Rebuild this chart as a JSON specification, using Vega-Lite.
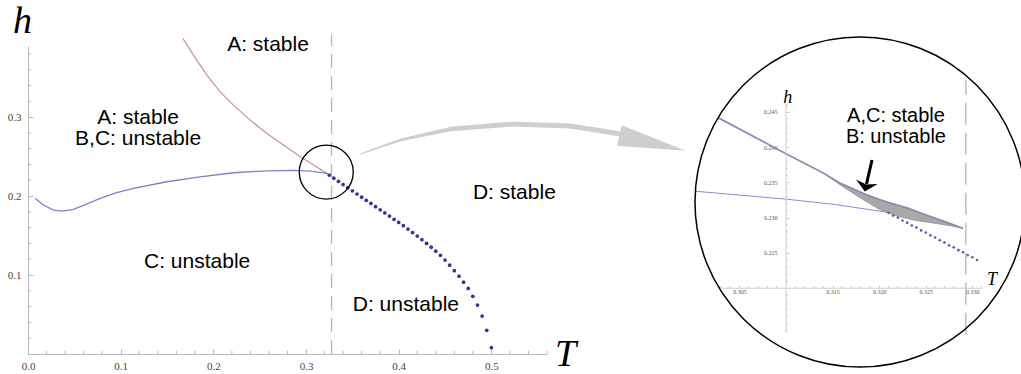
{
  "$schema": "https://vega.github.io/schema/vega-lite/v6.json",
  "background": "white",
  "padding": {"left": 7, "top": 3, "right": 0, "bottom": 0},
  "bounds": "flush",
  "spacing": 147,
  "config": {"view": {"stroke": null}, "axis": {"labelOverlap": false}},
  "datasets": {
    "redA": [
      {"T": 0.1671, "h": 0.3996}, {"T": 0.1785, "h": 0.3785}, {"T": 0.1930, "h": 0.3532},
      {"T": 0.2073, "h": 0.3320}, {"T": 0.2217, "h": 0.3152}, {"T": 0.2397, "h": 0.2962},
      {"T": 0.2578, "h": 0.2793}, {"T": 0.2757, "h": 0.2646}, {"T": 0.2937, "h": 0.2498},
      {"T": 0.3081, "h": 0.2392}, {"T": 0.3207, "h": 0.2300}, {"T": 0.3235, "h": 0.2285}
    ],
    "blueC": [
      {"T": 0.0076, "h": 0.1971}, {"T": 0.0166, "h": 0.1886}, {"T": 0.0273, "h": 0.1823},
      {"T": 0.0364, "h": 0.1810}, {"T": 0.0490, "h": 0.1831}, {"T": 0.0634, "h": 0.1899},
      {"T": 0.0778, "h": 0.1971}, {"T": 0.0958, "h": 0.2042}, {"T": 0.1138, "h": 0.2097},
      {"T": 0.1498, "h": 0.2181}, {"T": 0.1857, "h": 0.2244}, {"T": 0.2217, "h": 0.2295},
      {"T": 0.2578, "h": 0.2320}, {"T": 0.2865, "h": 0.2325}, {"T": 0.3045, "h": 0.2316},
      {"T": 0.3207, "h": 0.2290}, {"T": 0.3235, "h": 0.2285}
    ],
    "dotsD": [
      {"T": 0.325, "h": 0.2266}, {"T": 0.330, "h": 0.2226}, {"T": 0.335, "h": 0.2186},
      {"T": 0.340, "h": 0.2146}, {"T": 0.345, "h": 0.2106}, {"T": 0.350, "h": 0.2066},
      {"T": 0.355, "h": 0.2026}, {"T": 0.360, "h": 0.1986}, {"T": 0.365, "h": 0.1946},
      {"T": 0.370, "h": 0.1906}, {"T": 0.375, "h": 0.1866}, {"T": 0.380, "h": 0.1826},
      {"T": 0.385, "h": 0.1786}, {"T": 0.390, "h": 0.1746}, {"T": 0.395, "h": 0.1706},
      {"T": 0.400, "h": 0.1666}, {"T": 0.405, "h": 0.1624}, {"T": 0.410, "h": 0.1582},
      {"T": 0.415, "h": 0.1538}, {"T": 0.420, "h": 0.1493}, {"T": 0.425, "h": 0.1447},
      {"T": 0.430, "h": 0.1400}, {"T": 0.435, "h": 0.1352}, {"T": 0.440, "h": 0.1302},
      {"T": 0.445, "h": 0.1250}, {"T": 0.450, "h": 0.1190}, {"T": 0.455, "h": 0.1125},
      {"T": 0.460, "h": 0.1055}, {"T": 0.465, "h": 0.0985}, {"T": 0.470, "h": 0.0910},
      {"T": 0.475, "h": 0.0830}, {"T": 0.480, "h": 0.0730}, {"T": 0.485, "h": 0.0620},
      {"T": 0.490, "h": 0.0480}, {"T": 0.495, "h": 0.0300}, {"T": 0.500, "h": 0.0080}
    ],
    "minorXMain": [
      {"T": 0.02}, {"T": 0.04}, {"T": 0.06}, {"T": 0.08}, {"T": 0.12}, {"T": 0.14}, {"T": 0.16},
      {"T": 0.18}, {"T": 0.22}, {"T": 0.24}, {"T": 0.26}, {"T": 0.28}, {"T": 0.32}, {"T": 0.34},
      {"T": 0.36}, {"T": 0.38}, {"T": 0.42}, {"T": 0.44}, {"T": 0.46}, {"T": 0.48}, {"T": 0.52},
      {"T": 0.54}, {"T": 0.56}
    ],
    "minorYMain": [
      {"h": 0.02}, {"h": 0.04}, {"h": 0.06}, {"h": 0.08}, {"h": 0.12}, {"h": 0.14}, {"h": 0.16},
      {"h": 0.18}, {"h": 0.22}, {"h": 0.24}, {"h": 0.26}, {"h": 0.28}, {"h": 0.32}, {"h": 0.34},
      {"h": 0.36}, {"h": 0.38}
    ],
    "dashMain": [{"T": 0.3275, "h1": 0, "h2": 0.405}],
    "mainLabels": [
      {"T": 0.259, "h": 0.391, "text": "A: stable"},
      {"T": 0.1188, "h": 0.2990, "text": "A: stable"},
      {"T": 0.1188, "h": 0.2718, "text": "B,C: unstable"},
      {"T": 0.1825, "h": 0.1165, "text": "C: unstable"},
      {"T": 0.5248, "h": 0.2038, "text": "D: stable"},
      {"T": 0.4077, "h": 0.0620, "text": "D: unstable"}
    ],
    "mainLetterH": [{"T": -0.006, "h": 0.420, "text": "h"}],
    "mainLetterT": [{"T": 0.5799, "h": -0.0152, "text": "T"}],
    "smallCircle": [{"T": 0.3218, "h": 0.2304}],
    "arrowShaft": [
      {"T": 0.3585, "h": 0.2532}, {"T": 0.4017, "h": 0.2709}, {"T": 0.4557, "h": 0.2848},
      {"T": 0.5205, "h": 0.2911}, {"T": 0.5853, "h": 0.2886}, {"T": 0.6393, "h": 0.2785}
    ],
    "arrowHead": [{"T": 0.6739, "h": 0.2671}],
    "insetA": [
      {"T": 0.3027, "h": 0.2442}, {"T": 0.3101, "h": 0.2390}, {"T": 0.3140, "h": 0.23635},
      {"T": 0.3158, "h": 0.2349}, {"T": 0.3187, "h": 0.2332}, {"T": 0.3208, "h": 0.2322},
      {"T": 0.3230, "h": 0.2314}, {"T": 0.3258, "h": 0.2300}, {"T": 0.3290, "h": 0.2285}
    ],
    "insetBand": [
      {"T": 0.3140, "hu": 0.23635, "hl": 0.23635}, {"T": 0.3160, "hu": 0.2348, "hl": 0.2345},
      {"T": 0.3180, "hu": 0.2336, "hl": 0.2328}, {"T": 0.3200, "hu": 0.2326, "hl": 0.2312},
      {"T": 0.3220, "hu": 0.2318, "hl": 0.2302}, {"T": 0.3240, "hu": 0.2309, "hl": 0.2296},
      {"T": 0.3260, "hu": 0.2300, "hl": 0.2292}, {"T": 0.3275, "hu": 0.2293, "hl": 0.2289},
      {"T": 0.3290, "hu": 0.2285, "hl": 0.2285}
    ],
    "insetC": [
      {"T": 0.30024, "h": 0.23378}, {"T": 0.30077, "h": 0.23370}, {"T": 0.31014, "h": 0.23262},
      {"T": 0.31508, "h": 0.23191}, {"T": 0.32044, "h": 0.23086}, {"T": 0.3210, "h": 0.2307}
    ],
    "insetDots": [
      {"T": 0.3210, "h": 0.2307}, {"T": 0.3215, "h": 0.2303}, {"T": 0.3220, "h": 0.2300},
      {"T": 0.3225, "h": 0.2296}, {"T": 0.3230, "h": 0.2293}, {"T": 0.3235, "h": 0.2289},
      {"T": 0.3240, "h": 0.2286}, {"T": 0.3245, "h": 0.2282}, {"T": 0.3250, "h": 0.2279},
      {"T": 0.3255, "h": 0.2275}, {"T": 0.3260, "h": 0.2272}, {"T": 0.3265, "h": 0.2268},
      {"T": 0.3270, "h": 0.2265}, {"T": 0.3275, "h": 0.2261}, {"T": 0.3280, "h": 0.2258},
      {"T": 0.3285, "h": 0.2254}, {"T": 0.3290, "h": 0.2251}, {"T": 0.3295, "h": 0.2247},
      {"T": 0.3300, "h": 0.2244}, {"T": 0.3305, "h": 0.2240}
    ],
    "insetMinorX": [
      {"T": 0.303}, {"T": 0.304}, {"T": 0.306}, {"T": 0.307}, {"T": 0.308}, {"T": 0.309},
      {"T": 0.311}, {"T": 0.312}, {"T": 0.313}, {"T": 0.314}, {"T": 0.316}, {"T": 0.317},
      {"T": 0.318}, {"T": 0.319}, {"T": 0.321}, {"T": 0.322}, {"T": 0.323}, {"T": 0.324},
      {"T": 0.326}, {"T": 0.327}, {"T": 0.328}, {"T": 0.329}, {"T": 0.331}
    ],
    "insetMinorY": [
      {"h": 0.214}, {"h": 0.215}, {"h": 0.216}, {"h": 0.217}, {"h": 0.218}, {"h": 0.219},
      {"h": 0.221}, {"h": 0.222}, {"h": 0.223}, {"h": 0.224}, {"h": 0.226}, {"h": 0.227},
      {"h": 0.228}, {"h": 0.229}, {"h": 0.231}, {"h": 0.232}, {"h": 0.233}, {"h": 0.234},
      {"h": 0.236}, {"h": 0.237}, {"h": 0.238}, {"h": 0.239}, {"h": 0.241}, {"h": 0.242},
      {"h": 0.243}, {"h": 0.244}, {"h": 0.246}
    ],
    "insetDash": [{"T": 0.3293, "h1": 0.2134, "h2": 0.2495}],
    "insetXAxis": [{"T1": 0.3031, "T2": 0.3311, "h": 0.220}],
    "insetYAxis": [{"T": 0.310, "h1": 0.2137, "h2": 0.2462}],
    "bigCircle": [{"T": 0.31794, "h": 0.23223}],
    "insetLabels": [
      {"T": 0.3218, "h": 0.2444, "text": "A,C: stable"},
      {"T": 0.3218, "h": 0.2414, "text": "B: unstable"}
    ],
    "insetLetters": [
      {"T": 0.3102, "h": 0.24628, "text": "h"},
      {"T": 0.3321, "h": 0.22046, "text": "T"}
    ],
    "blackShaft": [{"T1": 0.31923, "h1": 0.23819, "T2": 0.31864, "h2": 0.23479}],
    "blackHead": [{"T": 0.31858, "h": 0.23450}]
  },
  "hconcat": [
    {
      "width": 519,
      "height": 308,
      "layer": [
        {
          "data": {"name": "redA"},
          "mark": {"type": "line", "color": "#c5909d", "strokeWidth": 1.2, "clip": false},
          "encoding": {
            "x": {
              "field": "T", "type": "quantitative",
              "scale": {"domain": [0, 0.56], "nice": false, "zero": false},
              "axis": {
                "title": null, "grid": false,
                "values": [0, 0.1, 0.2, 0.3, 0.4, 0.5], "format": ".1f",
                "domainColor": "#b8b8b8", "tickColor": "#b8b8b8", "tickSize": -5,
                "labelPadding": 11, "labelFont": "Liberation Serif", "labelFontSize": 11,
                "labelColor": "#444444", "labelFlush": false, "labelOverlap": false
              }
            },
            "y": {
              "field": "h", "type": "quantitative",
              "scale": {"domain": [0, 0.39], "nice": false, "zero": false},
              "axis": {
                "title": null, "grid": false,
                "values": [0.1, 0.2, 0.3], "format": ".1f",
                "domainColor": "#b8b8b8", "tickColor": "#b8b8b8", "tickSize": -5,
                "labelPadding": 12, "labelFont": "Liberation Serif", "labelFontSize": 11,
                "labelColor": "#444444", "labelFlush": false, "labelOverlap": false
              }
            }
          }
        },
        {
          "data": {"name": "minorXMain"},
          "mark": {"type": "rule", "color": "#b8b8b8", "strokeWidth": 1, "clip": false},
          "encoding": {
            "x": {"field": "T", "type": "quantitative"},
            "y": {"datum": 0, "type": "quantitative"},
            "y2": {"datum": 0.004}
          }
        },
        {
          "data": {"name": "minorYMain"},
          "mark": {"type": "rule", "color": "#b8b8b8", "strokeWidth": 1, "clip": false},
          "encoding": {
            "y": {"field": "h", "type": "quantitative"},
            "x": {"datum": 0, "type": "quantitative"},
            "x2": {"datum": 0.0035}
          }
        },
        {
          "data": {"name": "blueC"},
          "mark": {"type": "line", "color": "#8080ca", "strokeWidth": 1.3, "clip": false},
          "encoding": {
            "x": {"field": "T", "type": "quantitative"},
            "y": {"field": "h", "type": "quantitative"}
          }
        },
        {
          "data": {"name": "dashMain"},
          "mark": {"type": "rule", "color": "#b4b4b4", "strokeWidth": 1.3, "strokeDash": [14, 8], "clip": false},
          "encoding": {
            "x": {"field": "T", "type": "quantitative"},
            "y": {"field": "h1", "type": "quantitative"},
            "y2": {"field": "h2"}
          }
        },
        {
          "data": {"name": "dotsD"},
          "mark": {"type": "circle", "color": "#34349a", "size": 14, "opacity": 1, "clip": false},
          "encoding": {
            "x": {"field": "T", "type": "quantitative"},
            "y": {"field": "h", "type": "quantitative"}
          }
        },
        {
          "data": {"name": "smallCircle"},
          "mark": {"type": "point", "shape": "circle", "size": 2916, "filled": false, "stroke": "black", "strokeWidth": 1.3, "opacity": 1, "clip": false},
          "encoding": {
            "x": {"field": "T", "type": "quantitative"},
            "y": {"field": "h", "type": "quantitative"}
          }
        },
        {
          "data": {"name": "arrowShaft"},
          "mark": {"type": "trail", "color": "#cecece", "clip": false},
          "encoding": {
            "x": {"field": "T", "type": "quantitative"},
            "y": {"field": "h", "type": "quantitative"},
            "size": {"field": "T", "type": "quantitative", "scale": {"domain": [0.3585, 0.47], "range": [1, 5], "clamp": true}, "legend": null}
          }
        },
        {
          "data": {"name": "arrowHead"},
          "mark": {"type": "point", "shape": "M-1,-0.31L1,0L-1,0.31Z", "size": 4624, "filled": true, "color": "#cecece", "opacity": 1, "angle": 13, "clip": false},
          "encoding": {
            "x": {"field": "T", "type": "quantitative"},
            "y": {"field": "h", "type": "quantitative"}
          }
        },
        {
          "data": {"name": "mainLabels"},
          "mark": {"type": "text", "font": "Liberation Sans", "fontSize": 21, "color": "black", "baseline": "middle", "align": "center", "clip": false},
          "encoding": {
            "x": {"field": "T", "type": "quantitative"},
            "y": {"field": "h", "type": "quantitative"},
            "text": {"field": "text"}
          }
        },
        {
          "data": {"name": "mainLetterH"},
          "mark": {"type": "text", "font": "Liberation Serif", "fontStyle": "italic", "fontSize": 38, "color": "black", "baseline": "middle", "align": "center", "clip": false},
          "encoding": {
            "x": {"field": "T", "type": "quantitative"},
            "y": {"field": "h", "type": "quantitative"},
            "text": {"field": "text"}
          }
        },
        {
          "data": {"name": "mainLetterT"},
          "mark": {"type": "text", "font": "Liberation Serif", "fontStyle": "italic", "fontSize": 38, "color": "black", "baseline": "alphabetic", "align": "center", "clip": false},
          "encoding": {
            "x": {"field": "T", "type": "quantitative"},
            "y": {"field": "h", "type": "quantitative"},
            "text": {"field": "text"}
          }
        }
      ]
    },
    {
      "width": 330,
      "height": 308,
      "layer": [
        {
          "data": {"name": "insetBand"},
          "mark": {"type": "area", "color": "#a8a8a8", "stroke": "#8c8c8c", "strokeWidth": 0.8, "opacity": 1, "clip": false},
          "encoding": {
            "x": {
              "field": "T", "type": "quantitative",
              "scale": {"domain": [0.30013, 0.33554], "nice": false, "zero": false},
              "axis": {
                "title": null, "grid": false, "domain": false, "offset": -65.8,
                "values": [0.305, 0.315, 0.32, 0.325, 0.33], "format": ".3f",
                "tickColor": "#c8c8c8", "tickSize": -3, "labelPadding": 3,
                "labelFont": "Liberation Serif", "labelFontSize": 6, "labelColor": "#555555",
                "labelFlush": false, "labelOverlap": false
              }
            },
            "y": {
              "field": "hu", "type": "quantitative",
              "scale": {"domain": [0.21067, 0.25436], "nice": false, "zero": false},
              "axis": {
                "title": null, "grid": false, "domain": false, "offset": -92,
                "values": [0.225, 0.23, 0.235, 0.24, 0.245], "format": ".3f",
                "tickColor": "#c8c8c8", "tickSize": -3, "labelPadding": 12,
                "labelFont": "Liberation Serif", "labelFontSize": 6, "labelColor": "#555555",
                "labelFlush": false, "labelOverlap": false
              }
            },
            "y2": {"field": "hl"}
          }
        },
        {
          "data": {"name": "insetMinorX"},
          "mark": {"type": "rule", "color": "#cccccc", "strokeWidth": 1, "clip": false},
          "encoding": {
            "x": {"field": "T", "type": "quantitative"},
            "y": {"datum": 0.220, "type": "quantitative"},
            "y2": {"datum": 0.2203}
          }
        },
        {
          "data": {"name": "insetMinorY"},
          "mark": {"type": "rule", "color": "#cccccc", "strokeWidth": 1, "clip": false},
          "encoding": {
            "y": {"field": "h", "type": "quantitative"},
            "x": {"datum": 0.310, "type": "quantitative"},
            "x2": {"datum": 0.3102}
          }
        },
        {
          "data": {"name": "insetA"},
          "mark": {"type": "line", "color": "#8e8eb2", "strokeWidth": 1.8, "clip": false},
          "encoding": {
            "x": {"field": "T", "type": "quantitative"},
            "y": {"field": "h", "type": "quantitative"}
          }
        },
        {
          "data": {"name": "insetC"},
          "mark": {"type": "line", "color": "#8a8ad4", "strokeWidth": 1, "clip": false},
          "encoding": {
            "x": {"field": "T", "type": "quantitative"},
            "y": {"field": "h", "type": "quantitative"}
          }
        },
        {
          "data": {"name": "insetDots"},
          "mark": {"type": "circle", "color": "#5a5aaa", "size": 7, "opacity": 1, "clip": false},
          "encoding": {
            "x": {"field": "T", "type": "quantitative"},
            "y": {"field": "h", "type": "quantitative"}
          }
        },
        {
          "data": {"name": "insetDash"},
          "mark": {"type": "rule", "color": "#b4b4b4", "strokeWidth": 1.3, "strokeDash": [22, 8], "clip": false},
          "encoding": {
            "x": {"field": "T", "type": "quantitative"},
            "y": {"field": "h1", "type": "quantitative"},
            "y2": {"field": "h2"}
          }
        },
        {
          "data": {"name": "insetXAxis"},
          "mark": {"type": "rule", "color": "#cccccc", "strokeWidth": 1, "clip": false},
          "encoding": {
            "x": {"field": "T1", "type": "quantitative"},
            "x2": {"field": "T2"},
            "y": {"field": "h", "type": "quantitative"}
          }
        },
        {
          "data": {"name": "insetYAxis"},
          "mark": {"type": "rule", "color": "#cccccc", "strokeWidth": 1, "clip": false},
          "encoding": {
            "x": {"field": "T", "type": "quantitative"},
            "y": {"field": "h1", "type": "quantitative"},
            "y2": {"field": "h2"}
          }
        },
        {
          "data": {"name": "bigCircle"},
          "mark": {"type": "point", "shape": "circle", "size": 108900, "filled": false, "stroke": "black", "strokeWidth": 1.5, "opacity": 1, "clip": false},
          "encoding": {
            "x": {"field": "T", "type": "quantitative"},
            "y": {"field": "h", "type": "quantitative"}
          }
        },
        {
          "data": {"name": "insetLabels"},
          "mark": {"type": "text", "font": "Liberation Sans", "fontSize": 20, "color": "black", "baseline": "middle", "align": "center", "clip": false},
          "encoding": {
            "x": {"field": "T", "type": "quantitative"},
            "y": {"field": "h", "type": "quantitative"},
            "text": {"field": "text"}
          }
        },
        {
          "data": {"name": "insetLetters"},
          "mark": {"type": "text", "font": "Liberation Serif", "fontStyle": "italic", "fontSize": 18, "color": "black", "baseline": "alphabetic", "align": "center", "clip": false},
          "encoding": {
            "x": {"field": "T", "type": "quantitative"},
            "y": {"field": "h", "type": "quantitative"},
            "text": {"field": "text"}
          }
        },
        {
          "data": {"name": "blackShaft"},
          "mark": {"type": "rule", "color": "black", "strokeWidth": 3, "clip": false},
          "encoding": {
            "x": {"field": "T1", "type": "quantitative"},
            "x2": {"field": "T2"},
            "y": {"field": "h1", "type": "quantitative"},
            "y2": {"field": "h2"}
          }
        },
        {
          "data": {"name": "blackHead"},
          "mark": {"type": "point", "shape": "M-1,-0.4L0,0.5L1,-0.4L0,-0.15Z", "size": 484, "filled": true, "color": "black", "opacity": 1, "angle": 12, "clip": false},
          "encoding": {
            "x": {"field": "T", "type": "quantitative"},
            "y": {"field": "h", "type": "quantitative"}
          }
        }
      ]
    }
  ]
}
